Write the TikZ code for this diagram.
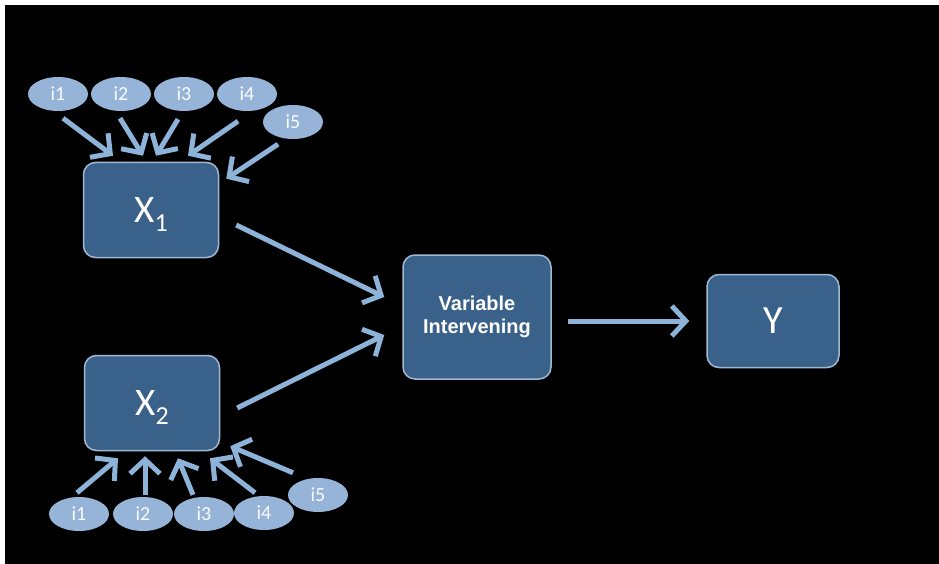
\documentclass[tikz,border=0pt]{standalone}
\usepackage{fontspec}
\setmainfont{Carlito}
\newfontfamily\arialfont{Liberation Sans}
\usepackage{tikz}
\usetikzlibrary{calc,shapes.geometric,arrows.meta}

\definecolor{boxblue}{RGB}{58,97,137}
\definecolor{boxedge}{RGB}{160,185,210}
\definecolor{itemblue}{RGB}{149,180,215}
\definecolor{arrblue}{RGB}{141,179,217}

\begin{document}
\begin{tikzpicture}[x=1pt,y=-1pt,
    varbox/.style={draw=boxedge,line width=1.5pt,fill=boxblue,rounded corners=12pt,
      text=white,inner sep=0pt,minimum width=#1},
    item/.style={ellipse,fill=itemblue,text=white!95!itemblue,inner sep=0pt,
      minimum width=60pt,minimum height=34pt,font=\fontsize{20}{20}\selectfont},
    arr/.style={draw=arrblue,line width=5pt,
      -{Straight Barb[length=14pt,width=30pt,line width=5pt]}}]
  \useasboundingbox (0,0) rectangle (939,564);
  \fill[white] (0,0) rectangle (939,564);
  \fill[black] (5,5) rectangle (939,564);

  % main boxes
  \node[varbox=135pt,minimum height=95pt,font=\fontsize{39}{39}\selectfont] (x1) at (151,210)
    {X\smash{\raisebox{-9pt}{\fontsize{26}{26}\selectfont 1}}};
  \node[varbox=135pt,minimum height=95pt,font=\fontsize{39}{39}\selectfont] (x2) at (152,403)
    {X\smash{\raisebox{-9pt}{\fontsize{26}{26}\selectfont 2}}};
  \node[varbox=148pt,minimum height=124pt,align=center,
    font=\arialfont\bfseries\fontsize{20}{23}\selectfont] (vi) at (477,317)
    {Variable\\Intervening};
  \node[varbox=132pt,minimum height=93pt,font=\fontsize{40}{40}\selectfont] (y) at (773,321) {Y};

  % indicators of X1
  \node[item] (ia1) at (58,94) {i1};
  \node[item] (ia2) at (121,94) {i2};
  \node[item] (ia3) at (184,94) {i3};
  \node[item] (ia4) at (247,94) {i4};
  \node[item] (ia5) at (293,122) {i5};

  % indicators of X2
  \node[item] (ib1) at (79,514) {i1};
  \node[item] (ib2) at (143,514) {i2};
  \node[item] (ib3) at (204,514) {i3};
  \node[item] (ib4) at (264,513) {i4};
  \node[item] (ib5) at (318,495) {i5};

  \draw[arr] ($(ia1.south)+(5,7)$) -- ($(x1.north)+(-38,-6)$);
  \draw[arr] ($(ia2.south)+(-1,7)$) -- ($(x1.north)+(-8,-6)$);
  \draw[arr] ($(ia3.south)+(-6,8)$) -- ($(x1.north)+(5,-6)$);
  \draw[arr] ($(ia4.south)+(-9,10)$) -- ($(x1.north)+(37,-6)$);
  \draw[arr] ($(ia5.south)+(-15,5)$) -- ($(x1.north east)+(7,17)$);

  \draw[arr] ($(ib1.north)+(-2,-4)$) -- ($(x2.south)+(-34,7)$);
  \draw[arr] ($(ib2.north)+(2,-2)$) -- ($(x2.south)+(-7,5)$);
  \draw[arr] ($(ib3.north)+(-11,-2)$) -- ($(x2.south)+(26,7)$);
  \draw[arr] ($(ib4.north)+(-9,-3)$) -- ($(x2.south)+(58,7)$);
  \draw[arr] ($(ib5.north)+(-25,-5)$) -- ($(x2.south east)+(10,-5)$);

  \draw[arr] ($(x1.east)+(17,15)$) -- ($(vi.west)+(-18,-20)$);
  \draw[arr] ($(x2.east)+(17,5)$) -- ($(vi.west)+(-18,18)$);
  \draw[arr] ($(vi.east)+(16,4)$) -- ($(y.west)+(-17,0)$);
\end{tikzpicture}
\end{document}
